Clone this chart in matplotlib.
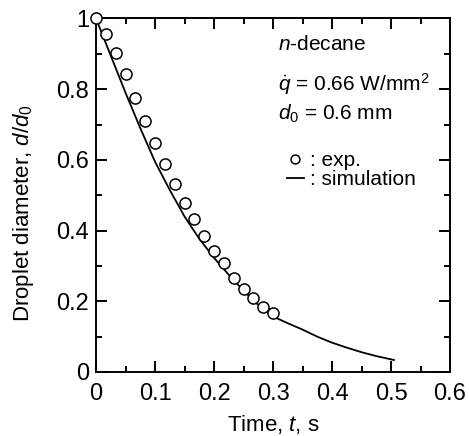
import matplotlib
matplotlib.use("Agg")
import matplotlib.pyplot as plt
from matplotlib.ticker import MultipleLocator, FuncFormatter

plt.rcParams['font.family'] = ['Liberation Sans', 'DejaVu Sans']
plt.rcParams['mathtext.fontset'] = 'custom'
plt.rcParams['mathtext.rm'] = 'Liberation Sans'
plt.rcParams['mathtext.it'] = 'Liberation Sans:italic'

t_exp = [0.0, 0.0167, 0.0333, 0.05, 0.0667, 0.0833, 0.1, 0.1167, 0.1333, 0.15,
         0.1667, 0.1833, 0.2, 0.2167, 0.2333, 0.25, 0.2667, 0.2833, 0.3]
d_exp = [1.0, 0.955, 0.902, 0.842, 0.774, 0.711, 0.649, 0.588, 0.532, 0.477,
         0.432, 0.384, 0.342, 0.307, 0.265, 0.235, 0.208, 0.185, 0.168]

# simulation curve
t_sim = [0.0, 0.025, 0.05, 0.075, 0.1, 0.125, 0.15, 0.175, 0.2, 0.225, 0.25,
         0.275, 0.3, 0.325, 0.35, 0.375, 0.4, 0.425, 0.45, 0.475, 0.505]
d_sim = [1.0, 0.895, 0.79, 0.69, 0.595, 0.515, 0.44, 0.377, 0.323, 0.275, 0.23,
         0.19, 0.157, 0.138, 0.12, 0.1, 0.083, 0.069, 0.056, 0.045, 0.034]

fig = plt.figure(figsize=(4.69, 4.36), dpi=100)
ax = fig.add_axes([0.2047, 0.1468, 0.7548, 0.8108])

ax.plot(t_sim, d_sim, color='black', lw=1.3, label=': simulation', zorder=2)
ax.plot(t_exp, d_exp, 'o', ms=8, mfc='white', mec='black', mew=1.1,
        label=': exp.', zorder=3, clip_on=False)

ax.set_xlim(0, 0.6)
ax.set_ylim(0, 1)
ax.xaxis.set_major_locator(MultipleLocator(0.1))
ax.xaxis.set_minor_locator(MultipleLocator(0.05))
ax.yaxis.set_major_locator(MultipleLocator(0.2))
ax.yaxis.set_minor_locator(MultipleLocator(0.1))
fmt = FuncFormatter(lambda v, p: ('%.1f' % v).rstrip('0').rstrip('.') if abs(v) > 1e-9 else '0')
ax.xaxis.set_major_formatter(fmt)
ax.yaxis.set_major_formatter(fmt)

ax.tick_params(which='both', direction='in', top=True, right=True, width=1.4, labelsize=17)
ax.tick_params(which='major', length=8)
ax.tick_params(which='minor', length=4.5)
ax.tick_params(axis='x', which='major', pad=8)
ax.tick_params(axis='y', which='major', pad=5)
for s in ax.spines.values():
    s.set_linewidth(1.4)

ax.set_xlabel('Time, $t$, s', fontsize=16, labelpad=6)
ax.set_ylabel('Droplet diameter, $d/d_0$', fontsize=16)
ax.yaxis.set_label_coords(-0.17, 0.45)

ax.text(0.514, 0.925, '$n$-decane', transform=ax.transAxes, fontsize=15, va='center')
ax.text(0.514, 0.815, r'$\dot{q}$ = 0.66 W/mm$^2$', transform=ax.transAxes, fontsize=15, va='center')
ax.text(0.514, 0.73, '$d_0$ = 0.6 mm', transform=ax.transAxes, fontsize=15, va='center')

h, l = ax.get_legend_handles_labels()
ax.legend(h[::-1], l[::-1], loc='upper left', bbox_to_anchor=(0.54, 0.625),
          frameon=False, fontsize=15, handlelength=0.8, handletextpad=0.3,
          labelspacing=0.0, borderpad=0, borderaxespad=0, markerscale=0.8)

fig.savefig('out.png', dpi=100)
